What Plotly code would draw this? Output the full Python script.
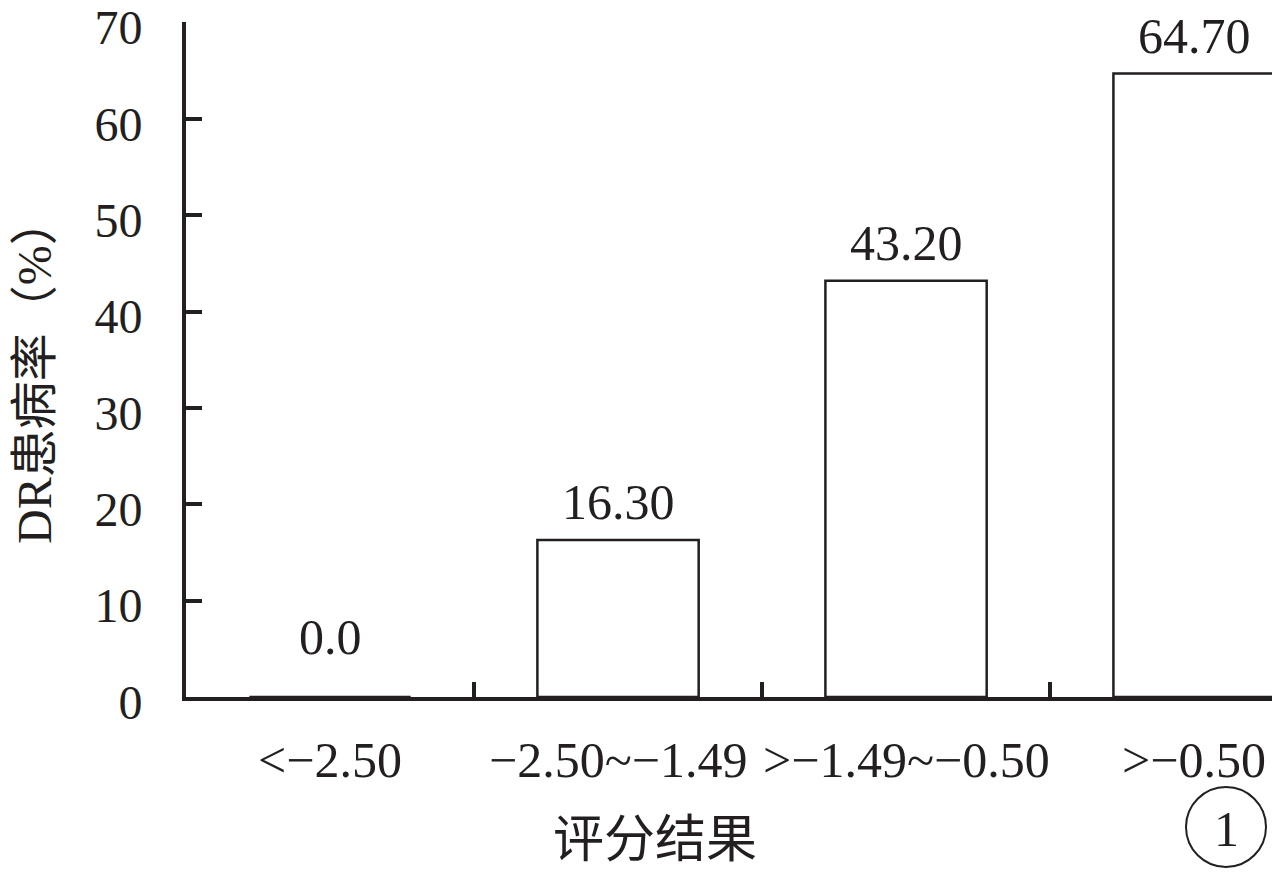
import plotly.graph_objects as go

categories = ["<−2.50", "−2.50~−1.49", ">−1.49~−0.50", ">−0.50"]
values = [0.0, 16.30, 43.20, 64.70]
value_labels = ["0.0", "16.30", "43.20", "64.70"]
y_ticks = [0, 10, 20, 30, 40, 50, 60, 70]

FONT = "Liberation Serif, Times New Roman, Noto Sans CJK SC, serif"
INK = "#231f20"
x_pos = list(range(len(categories)))

# page offset (body margin 8px) compensated: plot area spans x 186..1275, y 22..697 in page
W, H = 1272, 868
L, R, T, B = 178, 5, 14, 179
PW, PH = W - L - R, H - T - B


def px(xp):  # page x -> paper
    return (xp - 8 - L) / PW


def py(yp):  # page y -> paper
    return (H - B - (yp - 8)) / PH


fig = go.Figure()
fig.add_trace(go.Bar(
    x=x_pos, y=values, width=0.56,
    marker=dict(color="white", line=dict(color=INK, width=2.5)),
    showlegend=False, hoverinfo="skip",
))

for xi, v, t in zip(x_pos, values, value_labels):
    fig.add_annotation(x=xi, y=v, text=t, showarrow=False, xref="x", yref="y",
                       xanchor="center", yanchor="bottom", yshift=30 if v == 0 else 8,
                       font=dict(family=FONT, size=50, color=INK))

# category labels
for xi, c in zip(x_pos, categories):
    fig.add_annotation(x=xi, y=0, text=c, showarrow=False, xref="x", yref="y",
                       xanchor="center", yanchor="middle", yshift=-63,
                       font=dict(family=FONT, size=50, color=INK))

# axis titles
fig.add_annotation(x=px(655), y=py(840), xref="paper", yref="paper", text="评分结果",
                   showarrow=False, xanchor="center", yanchor="middle",
                   font=dict(family=FONT, size=51, color=INK))
fig.add_annotation(x=px(34), y=py(370), xref="paper", yref="paper", text="DR患病率（%）",
                   showarrow=False, xanchor="center", yanchor="middle", textangle=-90,
                   borderpad=0,
                   font=dict(family=FONT, size=48, color=INK))

# circled number
fig.add_shape(type="circle", xref="paper", yref="paper",
              x0=px(1186), x1=px(1266), y0=py(867), y1=py(787),
              line=dict(color=INK, width=2))
fig.add_annotation(x=px(1226), y=py(829), xref="paper", yref="paper",
                   text="1", showarrow=False, xanchor="center", yanchor="middle",
                   font=dict(family=FONT, size=50, color=INK))

fig.update_layout(
    width=W, height=H,
    margin=dict(l=L, r=R, t=T, b=B, autoexpand=False),
    plot_bgcolor="white", paper_bgcolor="white",
    font=dict(family=FONT, color=INK),
    xaxis=dict(range=[-0.5, 3.281], showgrid=False, zeroline=False, automargin=False,
               showline=True, linecolor=INK, linewidth=4, layer="above traces",
               tickmode="array", tickvals=[0.5, 1.5, 2.5], ticktext=["", "", ""],
               ticks="inside", ticklen=15, tickwidth=4, tickcolor=INK),
    yaxis=dict(range=[0, 70.05], showgrid=False, zeroline=False, automargin=False,
               showline=True, linecolor=INK, linewidth=4, layer="above traces",
               tickmode="array", tickvals=y_ticks,
               ticks="inside", ticklen=16, tickwidth=4, tickcolor=INK,
               tickfont=dict(family=FONT, size=48, color=INK),
               ticklabelstandoff=30, ticklabeloverflow="allow", ticklabelshift=5),
)

fig.write_html("out.html")
